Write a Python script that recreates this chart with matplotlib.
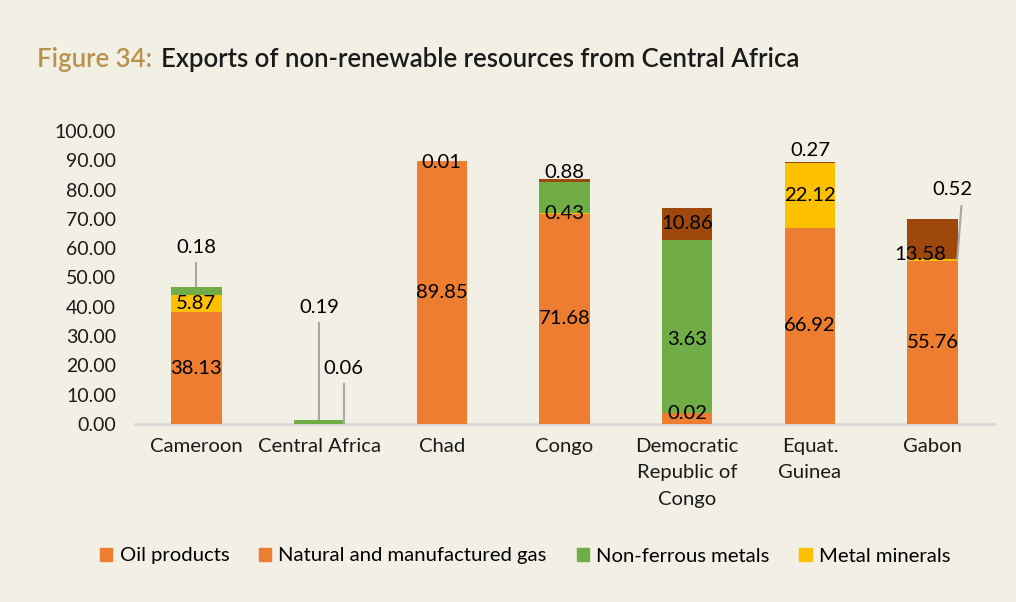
import matplotlib
matplotlib.use("Agg")
import matplotlib.pyplot as plt
from matplotlib.patches import Patch
import numpy as np

# ---- data -------------------------------------------------------------
countries = ["Cameroon", "Central Africa", "Chad", "Congo",
             "Democratic\nRepublic of\nCongo", "Equat.\nGuinea", "Gabon"]
oil_products = [38.13, 0.00, 89.85, 71.68, 3.63, 66.92, 55.76]
natural_gas = [0.00, 0.00, 0.00, 0.00, 0.02, 0.00, 0.00]
metal_minerals = [5.87, 0.06, 0.00, 0.43, 0.00, 22.12, 0.52]
non_ferrous = [2.70, 1.20, 0.01, 10.60, 59.20, 0.00, 0.00]
other_resources = [0.18, 0.19, 0.00, 0.88, 10.86, 0.27, 13.58]

series_names = ["Oil products", "Natural and manufactured gas",
                "Metal minerals", "Non-ferrous metals", "Other"]
series_values = [oil_products, natural_gas, metal_minerals, non_ferrous, other_resources]
series_colors = ["#ED7D31", "#ED7D31", "#FFC000", "#70AD47", "#9E480E"]

# labels shown: (country index, series index) -> placement
# placement: None = centred in segment; otherwise dict(dx, y, leader)
label_layout = {
    (0, 0): None, (0, 2): None,
    (0, 4): dict(dx=0.0, y=60.4, leader=(0.0, 55.3, 0.0, "top")),
    (1, 4): dict(dx=0.0, y=39.6, leader=(0.0, 34.8, 0.0, "top")),
    (1, 2): dict(dx=0.2, y=18.8, leader=(0.2, 14.0, 0.2, "mid")),
    (2, 0): None, (2, 3): dict(dx=0.0, y=89.1, leader=None),
    (3, 0): None, (3, 2): None, (3, 4): dict(dx=0.0, y=85.8, leader=None),
    (4, 0): dict(dx=0.0, y=29.0, leader=None), (4, 1): dict(dx=0.0, y=3.75, leader=None),
    (4, 4): None,
    (5, 0): None, (5, 2): None, (5, 4): dict(dx=0.0, y=93.2, leader=None),
    (6, 0): None, (6, 2): dict(dx=0.16, y=79.9, leader=(0.235, 74.7, 0.2, "mid")),
    (6, 4): dict(dx=-0.1, y=57.7, leader=None),
}

BG = "#F2EFE5"
FONT = "Lato"
FS = 14.6
TXT = "#1a1a1a"

fig = plt.figure(figsize=(10.16, 6.02), dpi=100, facecolor=BG)
ax = fig.add_axes([135 / 1016, 1 - 424 / 602, (994 - 135) / 1016, (424 - 131) / 602])
ax.set_facecolor(BG)

x = np.arange(len(countries))
width = 0.41
bottoms = np.zeros(len(countries))
seg_bottoms = []
for vals, col in zip(series_values, series_colors):
    vals = np.array(vals)
    ax.bar(x, vals, width, bottom=bottoms, color=col, linewidth=0, zorder=2)
    seg_bottoms.append(bottoms.copy())
    bottoms = bottoms + vals
totals = bottoms

for (ci, si), place in label_layout.items():
    val = series_values[si][ci]
    base = seg_bottoms[si][ci]
    text = f"{val:.2f}"
    if place is None:
        ax.text(x[ci], base + val / 2, text, ha="center", va="center",
                fontsize=FS, family=FONT, color="#000000", zorder=4)
        continue
    ax.text(x[ci] + place["dx"], place["y"], text, ha="center", va="center",
            fontsize=FS, family=FONT, color="#000000", zorder=4)
    if place["leader"] is not None:
        lx0, ly0, lx1, where = place["leader"]
        ly1 = totals[ci] if where == "top" else base + val / 2
        ax.plot([x[ci] + lx0, x[ci] + lx1], [ly0, ly1], color="#A6A6A6",
                lw=1.5, zorder=3, solid_capstyle="butt")

ax.set_xlim(-0.5, len(countries) - 0.5)
ax.set_ylim(0, 100)
yt = np.arange(0, 101, 10)
ax.set_yticks(yt)
ax.set_yticklabels([f"{v:.2f}" for v in yt], fontsize=14, family=FONT, color=TXT)
ax.set_xticks(x)
ax.set_xticklabels(countries, fontsize=FS, family=FONT, color=TXT,
                   linespacing=1.68, va="top")
ax.tick_params(axis="both", length=0)
ax.tick_params(axis="y", pad=13.7)
ax.tick_params(axis="x", pad=10)
for side in ["top", "right", "left"]:
    ax.spines[side].set_visible(False)
ax.spines["bottom"].set_color("#D9D9D9")
ax.spines["bottom"].set_linewidth(2)
ax.spines["bottom"].set_zorder(1)

# legend
handles = [Patch(color=series_colors[0], label=series_names[0]),
           Patch(color=series_colors[1], label=series_names[1]),
           Patch(color=series_colors[3], label=series_names[3]),
           Patch(color=series_colors[2], label=series_names[2])]
fig.legend(handles=handles, loc="center", bbox_to_anchor=(0.517, 1 - 556 / 602),
           ncol=4, frameon=False, prop={"family": FONT, "size": FS},
           handlelength=0.6, handleheight=0.6, handletextpad=0.35, columnspacing=1.48)

# title
TY = 1 - 59 / 602
t1 = fig.text(37 / 1016, TY, "Figure 34:", fontsize=18.5, family=FONT, weight="semibold",
              color="#B8914B", va="center", ha="left")
fig.canvas.draw()
bb = t1.get_window_extent()
fig.text((bb.x1 + 9) / 1016, TY,
         "Exports of non-renewable resources from Central Africa",
         fontsize=18.5, family=FONT, weight="semibold", color="#1a1a1a",
         va="center", ha="left")

fig.savefig("out.png", dpi=100, facecolor=BG)
